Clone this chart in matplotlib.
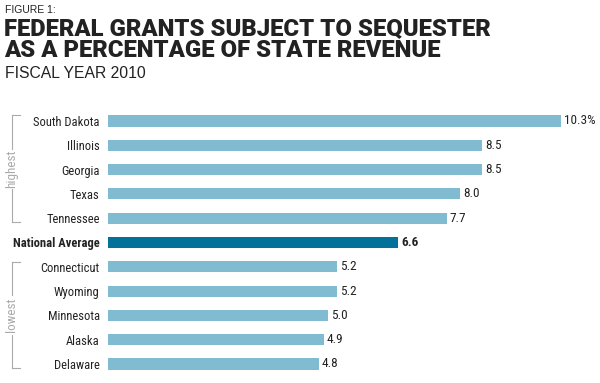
import matplotlib.pyplot as plt
from matplotlib.lines import Line2D

# datos
estados = ['South Dakota', 'Illinois', 'Georgia', 'Texas', 'Tennessee',
           'National Average', 'Connecticut', 'Wyoming', 'Minnesota', 'Alaska', 'Delaware']
valores = [10.3, 8.5, 8.5, 8.0, 7.7, 6.6, 5.2, 5.2, 5.0, 4.9, 4.8]
etiquetas = ['10.3%', '8.5', '8.5', '8.0', '7.7', '6.6', '5.2', '5.2', '5.0', '4.9', '4.8']

W, H = 600, 383
azul_claro = '#80bbd1'
azul_oscuro = '#03729a'
gris_texto = '#222222'

plt.rcParams['font.family'] = ['Roboto Condensed', 'DejaVu Sans']

fig = plt.figure(figsize=(6, 3.83), dpi=100)

def px(x, y):
    return x / W, 1 - y / H

# ejes: 1 unidad = 44 px, filas cada 24.3 px
ax = fig.add_axes([108 / W, (H - 376.15) / H, (W - 108) / W, 267.3 / H])
pos = list(range(len(estados)))
colores = [azul_oscuro if e == 'National Average' else azul_claro for e in estados]
ax.barh(pos, valores, height=0.46, color=colores)
ax.set_xlim(0, (W - 108) / 44)
ax.set_ylim(10.5, -0.5)
ax.set_yticks(pos)
ax.set_yticklabels(estados, fontsize=9, color=gris_texto)
for t, e in zip(ax.get_yticklabels(), estados):
    if e == 'National Average':
        t.set_fontweight('bold')
ax.tick_params(axis='y', length=0, pad=6)
ax.set_xticks([])
for s in ax.spines.values():
    s.set_visible(False)

for i, (v, txt) in enumerate(zip(valores, etiquetas)):
    ax.annotate(txt, (v, i), xytext=(2, 0), textcoords='offset points',
                va='center', ha='left', fontsize=9.5, color=gris_texto,
                fontweight='bold' if estados[i] == 'National Average' else 'normal')

# titulos
fig.text(*px(5, 13), 'FIGURE 1:', fontsize=7.5, color=gris_texto, va='baseline',
         family=['Liberation Sans', 'DejaVu Sans'])
fig.text(*px(4, 17), 'FEDERAL GRANTS SUBJECT TO SEQUESTER\nAS A PERCENTAGE OF STATE REVENUE',
         fontsize=17.2, fontweight=900, color=gris_texto, va='top', linespacing=0.95,
         family=['Roboto', 'DejaVu Sans'])
fig.text(*px(5, 78), 'FISCAL YEAR 2010', fontsize=11.3, color=gris_texto, va='baseline',
         family=['Liberation Sans', 'DejaVu Sans'])

# corchetes highest / lowest
gris = '#aaaaaa'
def corchete(y0, y1, texto):
    ym = (y0 + y1) / 2
    hueco = 20
    for a, b in [(y0, ym - hueco), (ym + hueco, y1)]:
        fig.add_artist(Line2D([12 / W, 12 / W], [px(0, a)[1], px(0, b)[1]], color=gris, lw=0.8))
    for y in (y0, y1):
        fig.add_artist(Line2D([12 / W, 20 / W], [px(0, y)[1], px(0, y)[1]], color=gris, lw=0.8))
    fig.text(*px(12, ym), texto, rotation=90, ha='center', va='center', fontsize=9.5, color=gris)

corchete(115, 222, 'highest')
corchete(262, 368, 'lowest')

fig.savefig('out.png', dpi=100)
